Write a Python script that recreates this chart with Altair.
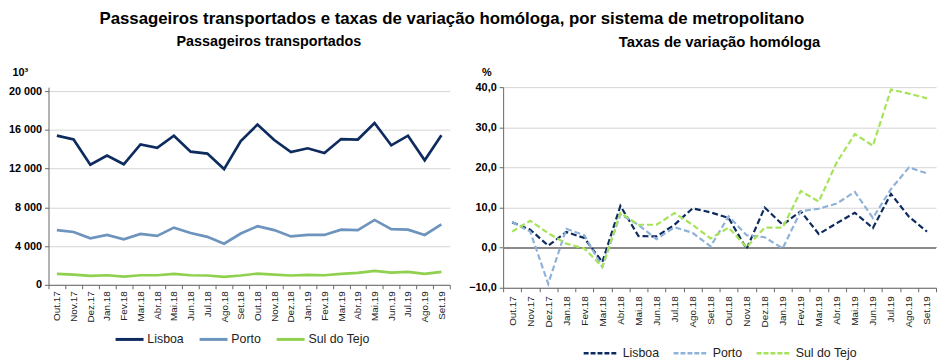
import altair as alt
import pandas as pd

months = ["Out.17", "Nov.17", "Dez.17", "Jan.18", "Fev.18", "Mar.18", "Abr.18", "Mai.18",
          "Jun.18", "Jul.18", "Ago.18", "Set.18", "Out.18", "Nov.18", "Dez.18", "Jan.19",
          "Fev.19", "Mar.19", "Abr.19", "Mai.19", "Jun.19", "Jul.19", "Ago.19", "Set.19"]
series = ["Lisboa", "Porto", "Sul do Tejo"]

# Passageiros transportados (10^3)
pass_lisboa = [15400, 15000, 12400, 13350, 12450, 14500, 14150, 15400, 13750, 13550, 11950, 14850,
               16550, 14950, 13700, 14100, 13600, 15050, 15000, 16700, 14400, 15400, 12850, 15450]
pass_porto = [5650, 5450, 4800, 5150, 4700, 5250, 5050, 5900, 5350, 4950, 4250, 5300,
              6050, 5650, 5000, 5150, 5150, 5700, 5650, 6700, 5750, 5700, 5150, 6250]
pass_sul = [1130, 1060, 920, 990, 850, 990, 990, 1130, 990, 960, 820, 960,
            1160, 1060, 960, 1030, 990, 1130, 1230, 1440, 1260, 1330, 1130, 1330]

# Taxas de variação homóloga (%)
var_lisboa = [6.3, 4.5, 0.5, 3.9, 2.4, -3.6, 10.4, 2.9, 2.8, 5.7, 9.8, 8.8,
              7.4, -0.3, 10.0, 5.7, 9.1, 3.4, 6.1, 8.7, 4.9, 13.4, 7.7, 4.0]
var_porto = [6.4, 4.0, -9.0, 4.7, 3.1, -4.8, 8.3, 5.7, 2.1, 5.1, 3.7, 0.3,
             7.8, 3.1, 2.6, -0.2, 9.1, 9.7, 11.0, 13.9, 7.4, 14.6, 20.0, 18.5]
var_sul = [4.0, 6.7, 3.6, 1.0, -0.2, -4.8, 8.7, 5.7, 5.7, 8.6, 5.7, 2.3,
           5.0, 0.1, 5.0, 5.0, 14.1, 11.5, 21.3, 28.3, 25.4, 39.4, 38.4, 37.2]

left_ticks = [0, 4000, 8000, 12000, 16000, 20000]
right_ticks = [-10, 0, 10, 20, 30, 40]

main_title = "Passageiros transportados e taxas de variação homóloga, por sistema de metropolitano"
left_title = "Passageiros transportados"
right_title = "Taxas de variação homóloga"

left_colors = ["#0d2b5e", "#6d94bd", "#8fd14f"]
right_colors = ["#0d2b5e", "#8fb2d8", "#a6e35a"]

FONT = "Liberation Sans"


def long_df(a, b, c):
    return pd.DataFrame({
        "Mês": months * 3,
        "Série": [series[0]] * len(a) + [series[1]] * len(b) + [series[2]] * len(c),
        "Valor": a + b + c,
    })


left_df = long_df(pass_lisboa, pass_porto, pass_sul)
right_df = long_df(var_lisboa, var_porto, var_sul)


def x_enc(label_padding):
    return alt.X(
        "Mês:N", sort=months,
        scale=alt.Scale(type="band", paddingInner=0, paddingOuter=0),
        bandPosition=0.5,
        axis=alt.Axis(title=None, labelAngle=-90, tickBand="extent", labelFont=FONT,
                      labelFontSize=10, labelColor="#222222", ticks=True, tickSize=4,
                      tickColor="#666666", domainColor="#666666", labelPadding=label_padding,
                      grid=False),
    )


# Left panel
left_plot = alt.Chart(left_df).mark_line(strokeWidth=2.7).encode(
    x=x_enc(2),
    y=alt.Y(
        "Valor:Q",
        scale=alt.Scale(domain=[0, 20408], nice=False, zero=False),
        axis=alt.Axis(
            values=left_ticks, title="10³", titleAngle=0, titleAlign="left", titleBaseline="bottom",
            titleX=-37, titleY=-10, titleFont=FONT, titleFontSize=11, titleFontWeight="bold",
            labelExpr="replace(format(datum.value, ','), ',', ' ')",
            labelFont=FONT, labelFontSize=11, labelFontWeight="bold", labelColor="#000000",
            grid=True, gridColor="#d4d4d4", tickSize=4, tickColor="#666666",
            domainColor="#666666", labelPadding=3,
        ),
    ),
    color=alt.Color(
        "Série:N", sort=series, scale=alt.Scale(domain=series, range=left_colors),
        legend=alt.Legend(
            title=None, orient="none", direction="horizontal", legendX=66, legendY=239,
            symbolType="stroke", symbolSize=800, symbolStrokeWidth=3, labelFont=FONT,
            labelFontSize=12.5, labelColor="#222222", labelOffset=2, columnPadding=9,
        ),
    ),
).properties(
    width=406, height=200,
    title=alt.TitleParams(left_title, font=FONT, fontSize=14.5, fontWeight="bold",
                          anchor="middle", frame="group", dx=20, offset=17, color="#000000"),
)

# Right panel
right_lines = alt.Chart(right_df).mark_line(strokeWidth=2.2, strokeDash=[6, 3]).encode(
    x=x_enc(4),
    y=alt.Y(
        "Valor:Q",
        scale=alt.Scale(domain=[-10, 40], nice=False, zero=False),
        axis=alt.Axis(
            values=right_ticks, title="%", titleAngle=0, titleAlign="left", titleBaseline="bottom",
            titleX=-22, titleY=-10, titleFont=FONT, titleFontSize=11, titleFontWeight="bold",
            labelExpr="replace(format(datum.value, '.1f'), '.', ',')",
            labelFont=FONT, labelFontSize=11, labelFontWeight="bold", labelColor="#000000",
            grid=True, gridColor="#d4d4d4", tickSize=4, tickColor="#666666",
            domainColor="#666666", labelPadding=3,
        ),
    ),
    color=alt.Color(
        "Série:N", sort=series, scale=alt.Scale(domain=series, range=right_colors),
        legend=alt.Legend(
            title=None, orient="none", direction="horizontal", legendX=80, legendY=250,
            symbolType="stroke", symbolSize=1225, symbolStrokeWidth=2.5, symbolDash=[5, 2],
            labelFont=FONT, labelFontSize=12.5, labelColor="#222222", labelOffset=3,
            columnPadding=9,
        ),
    ),
)

zero_rule = alt.Chart(right_df).mark_rule(color="#8a8a8a", strokeWidth=1.5).encode(
    y=alt.datum(0)
)

right_plot = alt.layer(zero_rule, right_lines).properties(
    width=438, height=203,
    title=alt.TitleParams(right_title, font=FONT, fontSize=15, fontWeight="bold",
                          anchor="middle", frame="group", dx=0, offset=17, color="#000000"),
)

chart = alt.hconcat(left_plot, right_plot, spacing=18).resolve_scale(
    color="independent"
).properties(
    padding=0,
    title=alt.TitleParams(main_title, font=FONT, fontSize=17, fontWeight="bold",
                          anchor="middle", dx=-21, offset=6, color="#000000"),
).configure_view(stroke=None)

chart.save("out.html", embed_options={"renderer": "svg", "actions": False})
